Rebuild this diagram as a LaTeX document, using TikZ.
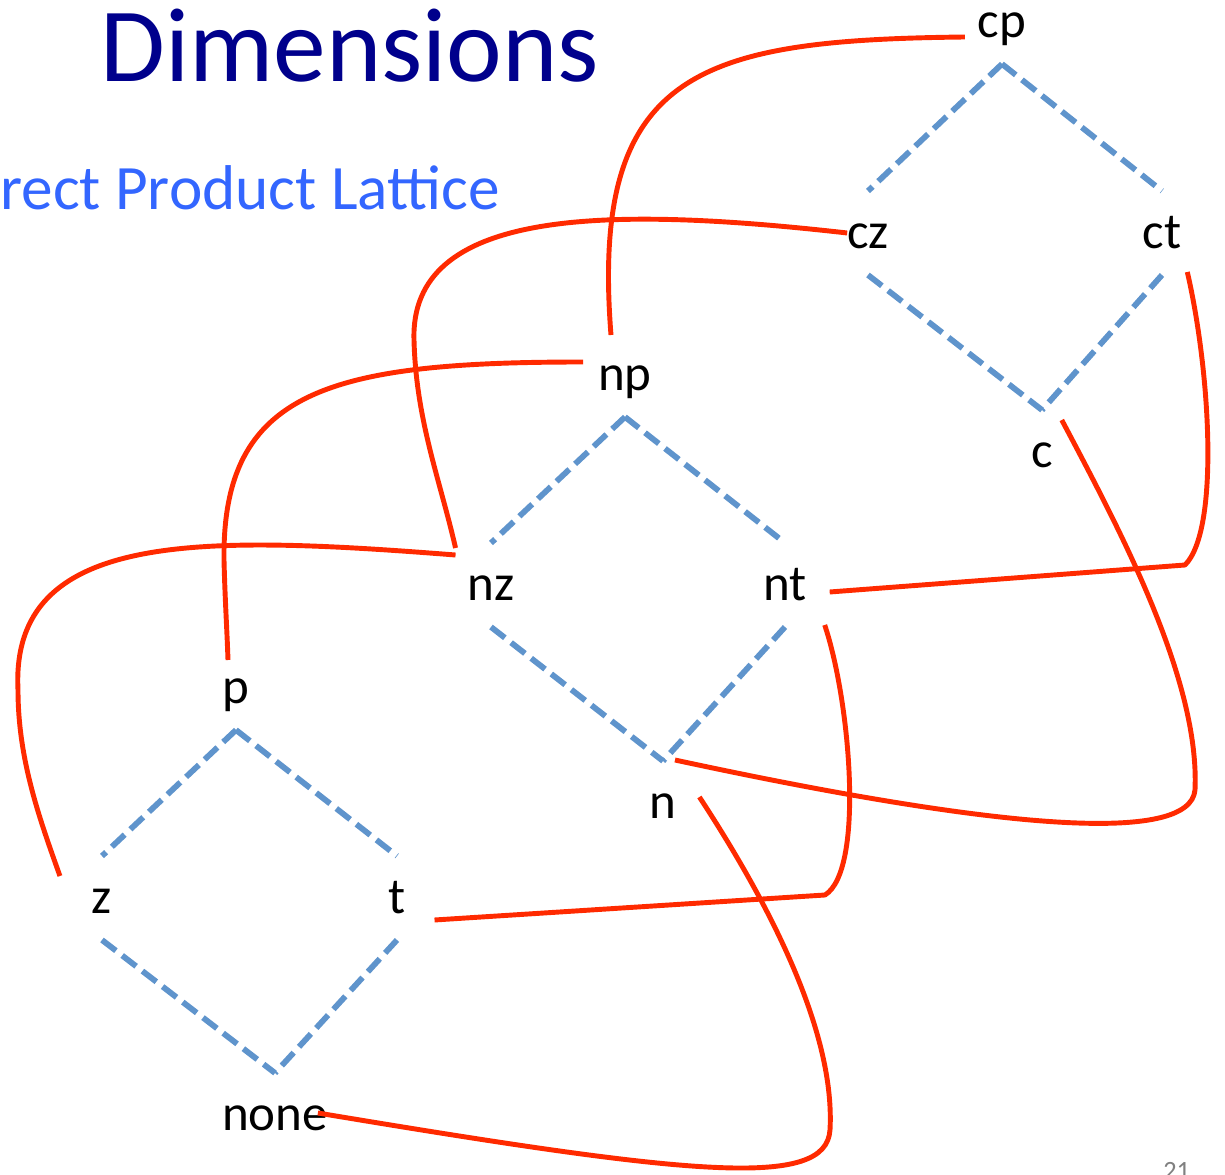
\documentclass[tikz,border=0pt]{standalone}
\usepackage{fontspec}
\setmainfont{Carlito}
\usetikzlibrary{calc}
\definecolor{titleblue}{RGB}{0,0,140}
\definecolor{subblue}{RGB}{51,102,255}
\definecolor{latblue}{RGB}{95,148,204}
\definecolor{mapred}{RGB}{255,42,0}

\begin{document}
\begin{tikzpicture}[x=0.02cm, y=-0.02cm,
  elem/.style={inner sep=0pt, outer sep=0pt, minimum height=1.68cm, text height=20pt, text depth=2pt, font=\fontsize{29}{34}\selectfont},
  order/.style={draw=latblue, line width=3.3pt, dash pattern=on 10pt off 4.5pt},
  embed/.style={draw=mapred, line width=2.8pt, line join=round}
]
\useasboundingbox (0,0) rectangle (1225,1175);
\clip (0,0) rectangle (1225,1175);

% Title and subtitle
\node[anchor=base west, inner sep=0pt, text=titleblue, font=\fontsize{60}{72}\selectfont] (title) at (100,82) {Dimensions};
\node[anchor=base west, inner sep=0pt, text=subblue, font=\fontsize{36}{43}\selectfont] (subtitle) at (0,210) {rect Product Lattice};
\node[anchor=base west, inner sep=0pt, text=gray, font=\fontsize{15}{18}\selectfont] (pagenum) at (1163,1179) {21};

% Lattice c
\node[elem] (cp) at (1002,22) {cp};
\node[elem] (cz) at (868,233) {cz};
\node[elem] (ct) at (1162,233) {ct};
\node[elem] (c) at (1042,452) {c};

% Lattice n
\node[elem] (np) at (625,375) {np};
\node[elem] (nz) at (491,585) {nz};
\node[elem] (nt) at (785,585) {nt};
\node[elem] (n) at (663,803) {n};

% Lattice p
\node[elem] (p) at (236,688) {p};
\node[elem] (z) at (102,898) {z};
\node[elem] (t) at (397,898) {t};
\node[elem] (none) at (275,1115) {none};

% Order edges (dashed)
\foreach \up/\lt/\rt/\dn in {cp/cz/ct/c, np/nz/nt/n, p/z/t/none} {
  \draw[order] (\up.south) -- (\lt.north);
  \draw[order] (\up.south) -- (\rt.north);
  \draw[order] (\lt.south) -- (\dn.north);
  \draw[order] (\rt.south) -- (\dn.north);
}

% Mappings between lattices
\draw[embed] ([shift={(-13,15)}]cp.west) .. controls (700,40) and (590,70) .. ([shift={(-14,2)}]np.north);
\draw[embed] (cz.west) .. controls (600,205) and (410,210) .. (414,340) .. controls (416,420) and (440,480) .. ([shift={(-12,5)}]nz.north west);
\draw[embed] ([shift={(-15,-13)}]np.west) .. controls (330,362) and (222,390) .. (224,560) .. controls (225,600) and (227,630) .. ([shift={(-8,14)}]p.north);
\draw[embed] ([shift={(-12,12)}]nz.north west) .. controls (200,535) and (10,530) .. (18,690) .. controls (18,760) and (40,820) .. ([shift={(-32,20)}]z.north west);
\draw[embed] ([shift={(6,-3)}]ct.south east) .. controls (1210,370) and (1220,530) .. (1185,565) -- ([shift={(23,7)}]nt.east);
\draw[embed] ([shift={(9,10)}]c.north east) .. controls (1120,530) and (1200,680) .. (1195,790) .. controls (1190,845) and (1000,830) .. ([shift={(12,-1)}]n.north);
\draw[embed] ([shift={(18,-2)}]nt.south east) .. controls (850,700) and (865,870) .. (825,895) -- ([shift={(29,22)}]t.east);
\draw[embed] ([shift={(23,-6)}]n.east) .. controls (780,920) and (835,1040) .. (830,1130) .. controls (826,1190) and (690,1175) .. ([shift={(-10,-2)}]none.east);

\end{tikzpicture}
\end{document}
